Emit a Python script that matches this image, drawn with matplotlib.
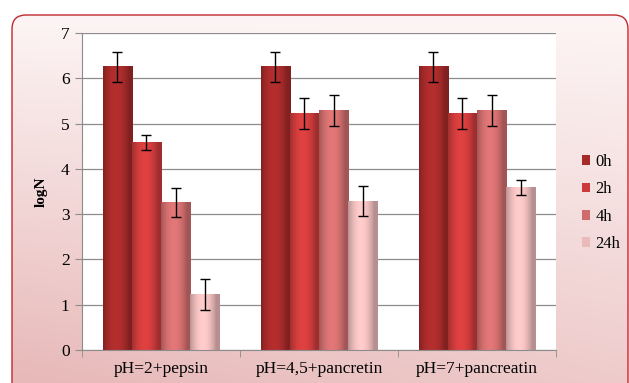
import matplotlib.pyplot as plt
import numpy as np
from matplotlib.patches import FancyBboxPatch
from matplotlib.colors import to_rgb

groups = ['pH=2+pepsin', 'pH=4,5+pancretin', 'pH=7+pancreatin']
times = ['0h', '2h', '4h', '24h']
logn_0h = [6.25, 6.25, 6.25]
logn_2h = [4.58, 5.23, 5.23]
logn_4h = [3.25, 5.28, 5.28]
logn_24h = [1.23, 3.29, 3.59]
err_0h = [0.33, 0.33, 0.33]
err_2h = [0.16, 0.34, 0.34]
err_4h = [0.32, 0.34, 0.34]
err_24h = [0.34, 0.33, 0.16]

values = [logn_0h, logn_2h, logn_4h, logn_24h]
errors = [err_0h, err_2h, err_4h, err_24h]
colors = ['#a52a2a', '#cc3b3b', '#cf6d6d', '#eab9b9']

plt.rcParams['font.family'] = ['Liberation Serif', 'DejaVu Serif']

W, H = 629, 383
fig = plt.figure(figsize=(W / 100, H / 100), dpi=100)

# background: rounded frame with a soft pink gradient (light top-right, pinker bottom-left)
bg = fig.add_axes([0, 0, 1, 1])
bg.set_xlim(0, W)
bg.set_ylim(0, H)
bg.axis('off')
yy, xx = np.mgrid[0:1:200j, 0:1:200j]
t = np.clip(0.75 * yy + 0.35 * (1 - xx) * yy, 0, 1)
top_c = np.array(to_rgb('#fdf5f5'))
bot_c = np.array(to_rgb('#e8b9b9'))
grad = top_c[None, None, :] * (1 - t[..., None]) + bot_c[None, None, :] * t[..., None]
frame = FancyBboxPatch((12, -30), 616, H - 15 + 30,
                       boxstyle='round,pad=0,rounding_size=14',
                       facecolor='none', edgecolor='#c0282d', lw=1.0, zorder=3)
bg.add_patch(frame)
im = bg.imshow(grad, extent=[12, 628, -30, H - 15], origin='upper',
               aspect='auto', zorder=1)
im.set_clip_path(frame)

ax = fig.add_axes([82 / W, 33 / H, 474 / W, 317 / H])
ax.set_facecolor('white')

x = np.arange(len(groups))
w = 0.184
prof = np.linspace(0, 1, 60)
shade = 0.78 + 0.32 * np.sin(np.pi * np.clip(prof * 1.15, 0, 1)) ** 0.8

for i, (vals, errs, col) in enumerate(zip(values, errors, colors)):
    pos = x + (i - 1.5) * w
    bars = ax.bar(pos, vals, w, color=col, label=times[i], zorder=2,
                  edgecolor='none')
    base = np.array(to_rgb(col))
    strip = np.clip(base[None, :] * shade[:, None], 0, 1)[None, :, :]
    for b in bars:
        ax.imshow(strip, extent=[b.get_x(), b.get_x() + b.get_width(), 0, b.get_height()],
                  aspect='auto', zorder=2.5, interpolation='bilinear')
    ax.errorbar(pos, vals, yerr=errs, fmt='none', ecolor='black',
                elinewidth=1, capsize=3.5, capthick=1, zorder=4)

ax.set_xlim(-0.5, 2.5)
ax.set_ylim(0, 7)
ax.set_yticks(range(8))
ax.yaxis.grid(True, color='#8c8c8c', lw=0.9)
ax.set_axisbelow(True)
ax.set_xticks(x)
ax.set_xticklabels(groups, fontsize=12.5)
ax.set_xticks([-0.5, 0.5, 1.5, 2.5], minor=True)
ax.tick_params(axis='x', which='major', length=0, pad=8)
ax.tick_params(axis='x', which='minor', length=5, color='#8c8c8c')
ax.tick_params(axis='y', length=5, color='#8c8c8c', labelsize=12.5, pad=4)
for s in ['top', 'right']:
    ax.spines[s].set_visible(False)
for s in ['left', 'bottom']:
    ax.spines[s].set_color('#8c8c8c')
ax.set_ylabel('logN', fontsize=11, fontweight='bold', labelpad=9)

fig.legend(loc='upper left', bbox_to_anchor=(582 / W, 1 - 154 / H),
           frameon=False, fontsize=12, handlelength=0.5, handleheight=0.5,
           handletextpad=0.3, labelspacing=0.68, borderpad=0, borderaxespad=0)

fig.savefig('out.png', dpi=100)
